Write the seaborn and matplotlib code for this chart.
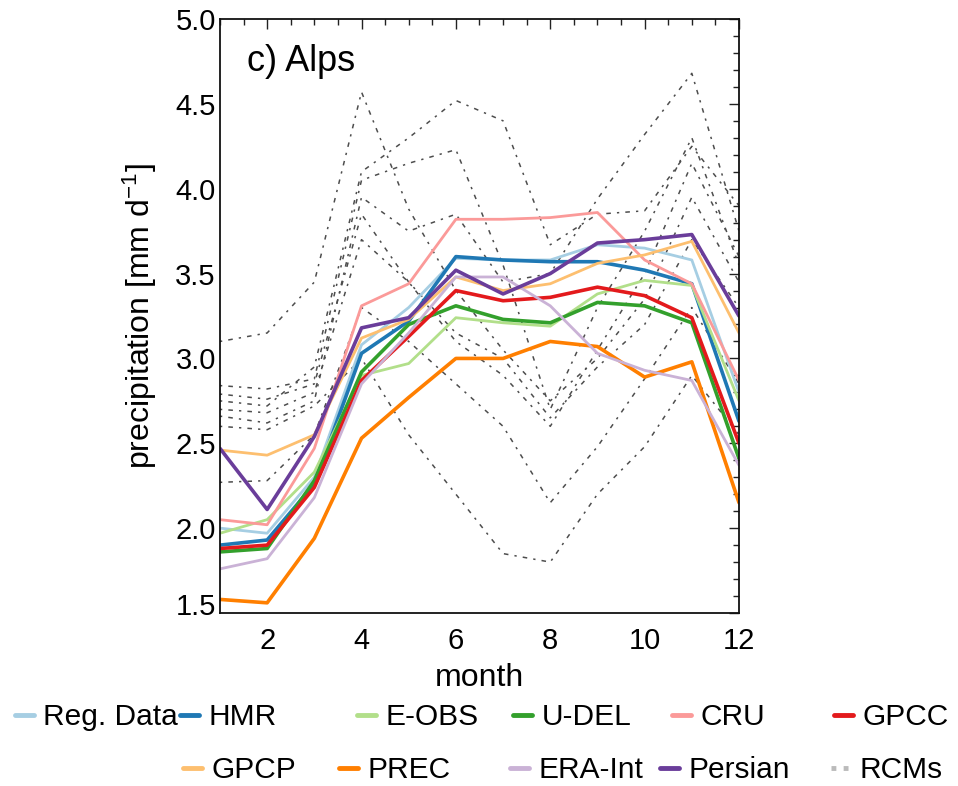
import numpy as np
import pandas as pd
import matplotlib
matplotlib.use("Agg")
import matplotlib.pyplot as plt
import matplotlib.transforms as mtransforms
import seaborn as sns
from matplotlib.ticker import MultipleLocator, FormatStrFormatter
from matplotlib.lines import Line2D

# ---------------- data ----------------
months = list(range(1, 13))
series_names = ["Reg. Data", "HMR", "E-OBS", "U-DEL", "CRU", "GPCC",
                "GPCP", "PREC", "ERA-Int", "Persian"]
reg_data = [2.00, 1.97, 2.30, 3.08, 3.30, 3.59, 3.58, 3.58, 3.67, 3.65, 3.58, 2.80]
hmr      = [1.90, 1.93, 2.26, 3.03, 3.22, 3.60, 3.58, 3.57, 3.57, 3.52, 3.44, 2.63]
e_obs    = [1.97, 2.05, 2.33, 2.90, 2.97, 3.24, 3.21, 3.19, 3.38, 3.46, 3.43, 2.75]
u_del    = [1.86, 1.88, 2.28, 2.92, 3.20, 3.31, 3.23, 3.21, 3.33, 3.31, 3.21, 2.41]
cru      = [2.05, 2.02, 2.47, 3.31, 3.44, 3.82, 3.82, 3.83, 3.86, 3.58, 3.44, 2.87]
gpcc     = [1.88, 1.90, 2.24, 2.87, 3.13, 3.40, 3.34, 3.36, 3.42, 3.37, 3.24, 2.50]
gpcp     = [2.46, 2.43, 2.55, 3.12, 3.23, 3.48, 3.40, 3.44, 3.56, 3.61, 3.69, 3.15]
prec     = [1.58, 1.56, 1.94, 2.53, 2.77, 3.00, 3.00, 3.10, 3.07, 2.89, 2.98, 2.15]
era_int  = [1.76, 1.82, 2.18, 2.85, 3.15, 3.48, 3.48, 3.31, 3.03, 2.93, 2.87, 2.37]
persian  = [2.47, 2.11, 2.54, 3.18, 3.24, 3.52, 3.38, 3.50, 3.68, 3.70, 3.73, 3.25]

rcm_1 = [3.10, 3.15, 3.45, 4.57, 3.88, 3.40, 3.05, 2.75, 3.00, 3.35, 3.95, 3.45]
rcm_2 = [2.75, 2.72, 2.95, 4.10, 4.30, 4.52, 4.40, 3.67, 3.85, 3.87, 4.25, 3.90]
rcm_3 = [2.84, 2.82, 2.88, 4.05, 4.15, 4.23, 3.55, 2.70, 3.30, 3.75, 4.30, 3.55]
rcm_4 = [2.66, 2.62, 2.75, 3.95, 3.75, 3.85, 3.45, 3.50, 3.94, 4.32, 4.68, 3.75]
rcm_5 = [2.60, 2.58, 2.72, 3.00, 2.55, 2.20, 1.85, 1.80, 2.20, 2.48, 2.90, 2.55]
rcm_6 = [2.27, 2.28, 2.55, 3.30, 3.10, 2.85, 2.60, 2.15, 2.48, 2.88, 3.30, 2.85]
rcm_7 = [2.79, 2.76, 2.85, 3.85, 3.45, 3.15, 3.00, 2.65, 2.95, 3.20, 3.70, 3.30]
rcm_8 = [2.70, 2.68, 2.80, 3.70, 3.45, 3.10, 2.90, 2.60, 3.05, 3.50, 4.15, 3.60]

# ---------------- style ----------------
sns.set_theme(style="white")
plt.rcParams["font.family"] = ["Liberation Sans", "DejaVu Sans"]
plt.rcParams["mathtext.default"] = "regular"
plt.rcParams["text.color"] = "black"
plt.rcParams["axes.labelcolor"] = "black"
plt.rcParams["xtick.color"] = "black"
plt.rcParams["ytick.color"] = "black"

palette = sns.color_palette("Paired", 10)
obs_values = [reg_data, hmr, e_obs, u_del, cru, gpcc, gpcp, prec, era_int, persian]
widths = [2.0, 2.6, 2.0, 2.6, 2.0, 2.6, 2.0, 2.6, 2.0, 2.6]

obs_df = pd.DataFrame({
    "month": np.tile(months, len(series_names)),
    "precip": np.concatenate(obs_values),
    "dataset": np.repeat(series_names, len(months)),
})
rcm_list = [rcm_1, rcm_2, rcm_3, rcm_4, rcm_5, rcm_6, rcm_7, rcm_8]
rcm_df = pd.DataFrame({
    "month": np.tile(months, len(rcm_list)),
    "precip": np.concatenate(rcm_list),
    "model": np.repeat([f"rcm{i}" for i in range(len(rcm_list))], len(months)),
})

fig = plt.figure(figsize=(9.58, 7.86), dpi=100)
ax = fig.add_axes([0.2296, 0.2201, 0.5418, 0.7557])

sns.lineplot(data=rcm_df, x="month", y="precip", units="model", estimator=None,
             color="#4d4d4d", lw=1.1, linestyle=(0, (1.5, 4, 3, 4)), ax=ax,
             legend=False)

for name, col, w in zip(series_names, palette, widths):
    sub = obs_df[obs_df["dataset"] == name]
    sns.lineplot(data=sub, x="month", y="precip", color=col, lw=w, ax=ax,
                 legend=False, estimator=None)

ax.set_xlim(1, 12)
ax.set_ylim(1.5, 5.0)
ax.xaxis.set_major_locator(MultipleLocator(2))
ax.xaxis.set_minor_locator(MultipleLocator(0.5))
ax.yaxis.set_major_locator(MultipleLocator(0.5))
ax.yaxis.set_minor_locator(MultipleLocator(0.1))
ax.yaxis.set_major_formatter(FormatStrFormatter("%.1f"))
ax.tick_params(which="both", direction="in", top=True, right=True,
               color="#222222", width=1.0)
ax.tick_params(which="major", length=7, labelsize=21)
ax.tick_params(which="minor", length=4)
ax.tick_params(axis="x", which="major", pad=10)
ax.tick_params(axis="y", which="major", pad=3)
for sp in ax.spines.values():
    sp.set_color("#111111")
    sp.set_linewidth(1.3)

ax.set_xlabel("month", fontsize=23)
ax.set_ylabel("precipitation [mm d$^{-1}$]", fontsize=23)
ax.xaxis.set_label_coords(0.5, -0.085)
ax.yaxis.set_label_coords(-0.118, 0.5)

ax.text(0.052, 0.929, "c) Alps", transform=ax.transAxes, fontsize=26,
        ha="left", va="center")

# bottom tick label 1.5 sits slightly above its tick, as in the original
fig.canvas.draw()
for t in ax.yaxis.get_major_ticks():
    if abs(t.get_loc() - 1.5) < 1e-6:
        lab = t.label1
        lab.set_transform(lab.get_transform() +
                          mtransforms.ScaledTranslation(0, 0.09, fig.dpi_scale_trans))

# ---------------- legend (placed entry by entry) ----------------
entries_row1 = [("Reg. Data", 15), ("HMR", 180), ("E-OBS", 357), ("U-DEL", 513),
                ("CRU", 672), ("GPCC", 834)]
entries_row2 = [("GPCP", 183), ("PREC", 339), ("ERA-Int", 510), ("Persian", 660),
                ("RCMs", 831)]
col_of = dict(zip(series_names, palette))
W, H = 958, 786
for row, ypix in ((entries_row1, 717), (entries_row2, 770)):
    for name, xpix in row:
        if name == "RCMs":
            h = Line2D([], [], color="#bbbbbb", lw=3.5, linestyle=(0, (1, 1.5)))
        else:
            h = Line2D([], [], color=col_of[name], lw=3.5)
        fig.legend(handles=[h], labels=[name], loc="center left",
                   bbox_to_anchor=(xpix / W, 1 - ypix / H), frameon=False,
                   prop={"size": 21.5},
                   handlelength=0.65, handletextpad=0.3,
                   borderpad=0, borderaxespad=0)

fig.savefig("out.png", dpi=100)
